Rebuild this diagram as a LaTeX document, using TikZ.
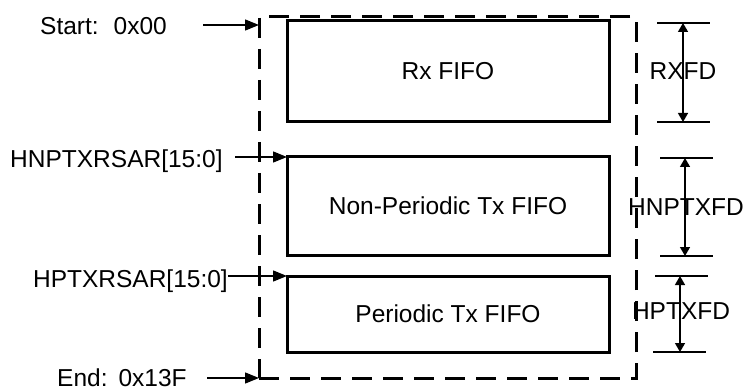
\documentclass[tikz,border=0pt]{standalone}
\usepackage{fontspec}
\setmainfont{Liberation Sans}
\usetikzlibrary{arrows.meta}
\begin{document}
\begin{tikzpicture}[x=1pt,y=-1pt,
  txt/.style={font=\fontsize{24.5}{28}\selectfont, inner sep=0pt},
  fifo/.style={draw, line width=3pt, inner sep=0pt, outer sep=0pt, txt},
  frame/.style={draw, line width=3pt, dash pattern=on 20pt off 11pt, inner sep=0pt, outer sep=0pt},
  ptr/.style={line width=1.4pt, -{Triangle[length=14pt,width=11pt]}},
  tick/.style={line width=1.1pt},
  dim/.style={line width=1.4pt, {Triangle[length=9pt,width=10pt]}-{Triangle[length=9pt,width=10pt]}}]
\useasboundingbox (0,0) rectangle (744,390);
% memory frame
\node[frame, minimum width=377pt, minimum height=361pt] (mem) at (447.5,197.5) {};
% fifo boxes
\node[fifo, minimum width=322pt, minimum height=101pt] (rx) at (448,71.5) {Rx FIFO};
\node[fifo, minimum width=322pt, minimum height=98pt] (np) at (448,206) {Non-Periodic Tx FIFO};
\node[fifo, minimum width=322pt, minimum height=76pt] (pt) at (448,314) {Periodic Tx FIFO};
% left labels
\node[txt, anchor=base west] (startl) at (40,35) {Start:\hspace{15pt}0x00};
\node[txt, anchor=base west] (npl) at (10,168) {HNPTXRSAR[15:0]};
\node[txt, anchor=base east] (pl) at (228,287) {HPTXRSAR[15:0]};
\node[txt, anchor=base west] (endl) at (57,386) {End:\hspace{11pt}0x13F};
% pointer arrows
\coordinate (s1) at (203,25);
\coordinate (s2) at (259,25);
\draw[ptr] (s1) -- (s2);
\coordinate (e1) at (207,378);
\draw[ptr] (e1) -- (mem.south west);
\coordinate (n1) at (235,157);
\draw[ptr] (n1) -- (np.north west);
\coordinate (p1) at (228,276);
\draw[ptr] (p1) -- (pt.north west);
% dimension RXFD
\coordinate (ra) at (657,23); \coordinate (rb) at (710,23);
\coordinate (rc) at (657,122); \coordinate (rd) at (710,122);
\coordinate (rt) at (683,23); \coordinate (rbm) at (683,122);
\draw[tick] (ra) -- (rb);
\draw[tick] (rc) -- (rd);
\draw[dim] (rt) -- (rbm);
\node[txt, anchor=base] (rxfd) at (683,80) {RXFD};
% dimension HNPTXFD
\coordinate (na) at (660,158); \coordinate (nb) at (713,158);
\coordinate (nc) at (660,256); \coordinate (nd) at (713,256);
\coordinate (nt) at (685,158); \coordinate (nbm) at (685,256);
\draw[tick] (na) -- (nb);
\draw[tick] (nc) -- (nd);
\draw[dim] (nt) -- (nbm);
\node[txt, anchor=base] (hnptxfd) at (686,215) {HNPTXFD};
% dimension HPTXFD
\coordinate (pa) at (655,276); \coordinate (pb) at (708,276);
\coordinate (pc) at (653,352); \coordinate (pd) at (706,352);
\coordinate (ptt) at (680,276); \coordinate (pbm) at (680,352);
\draw[tick] (pa) -- (pb);
\draw[tick] (pc) -- (pd);
\draw[dim] (ptt) -- (pbm);
\node[txt, anchor=base] (hptxfd) at (681,319) {HPTXFD};
\end{tikzpicture}
\end{document}
